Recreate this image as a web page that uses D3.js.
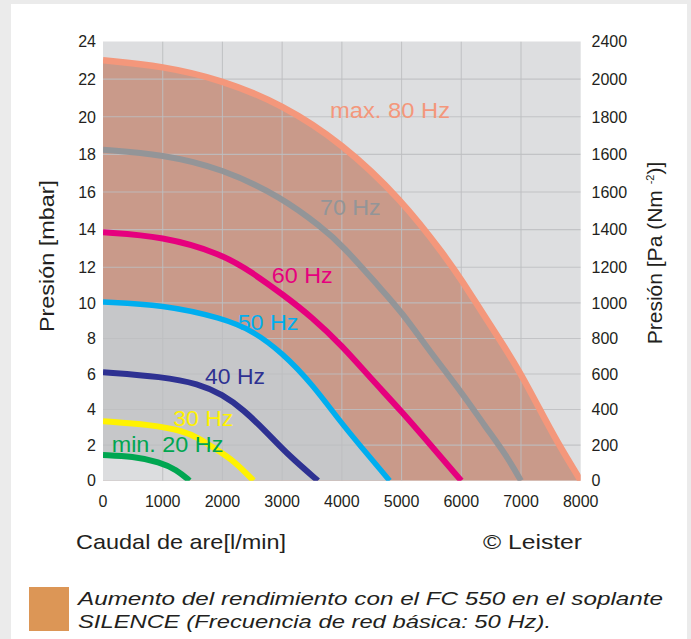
<!DOCTYPE html>
<html><head><meta charset="utf-8">
<script src="https://cdn.jsdelivr.net/npm/d3@7"></script>
<style>
body{margin:0;background:#ebebeb;}
svg{display:block;font-family:"Liberation Sans",Arial,Helvetica,sans-serif;}
</style>
</head><body>
<svg id="chart" width="691" height="639"></svg>
<script>
// ---- data ----
const flowTicks = [0,1000,2000,3000,4000,5000,6000,7000,8000];
const mbarTicks = [0,2,4,6,8,10,12,14,16,18,20,22,24];
const paLabels  = ["0","200","400","600","800","1000","1200","1400","1600","1600","1800","2000","2400"];

const hz80Flow = [0,1000,2000,3000,4000,5000,5750,6000,6400,6700,7000,7300,7600,8000];
const hz80Pres = [23.0,22.7,21.95,20.65,18.6,15.6,12.5,11.3,9.2,7.65,6.0,4.1,2.2,0];
const hz70Flow = [0,1000,2000,3000,3650,4000,4650,5000,5500,6000,6400,6750,7000];
const hz70Pres = [18.25,18.0,17.25,15.7,14.15,13.2,10.8,9.5,7.15,5.0,3.05,1.45,0];
const hz60Flow = [0,1000,2000,2500,3000,3500,4000,4500,5000,5500,6000];
const hz60Pres = [13.86,13.65,12.7,11.7,10.5,9.2,7.6,5.7,3.9,1.95,0];
const hz50Flow = [0,1000,2000,2500,3000,3500,4000,4300,4800];
const hz50Pres = [10.05,9.9,9.15,8.45,7.2,5.45,3.2,2.0,0];
const hz40Flow = [0,1000,1600,2000,2350,2750,3100,3600];
const hz40Pres = [6.1,5.85,5.45,4.85,4.0,2.7,1.45,0];
const hz30Flow = [0,800,1350,1600,1900,2200,2520];
const hz30Pres = [3.35,3.15,2.8,2.4,1.75,1.1,0];
const hz20Flow = [0,500,950,1230,1450];
const hz20Pres = [1.45,1.37,1.05,0.62,0];

const seriesNames = ["max. 80 Hz","70 Hz","60 Hz","50 Hz","40 Hz","30 Hz","min. 20 Hz"];
const seriesColors = ["#f4977b","#939598","#e6007e","#00aeef","#2e3192","#fff200","#00a651"];

// ---- build ----
const flows = [hz80Flow,hz70Flow,hz60Flow,hz50Flow,hz40Flow,hz30Flow,hz20Flow];
const press = [hz80Pres,hz70Pres,hz60Pres,hz50Pres,hz40Pres,hz30Pres,hz20Pres];
const series = seriesNames.map((n,i)=>({name:n,color:seriesColors[i],
  pts:flows[i].map((f,j)=>({f:f,p:press[i][j]}))}));

const svg = d3.select("#chart");
const L=103, R=580.7, T=41.5, B=480.7;
const x = d3.scaleLinear().domain([0,8000]).range([L,R]);
const y = d3.scaleLinear().domain([0,12,24]).range([B,267.3,T]);

// card
svg.append("rect").attr("x",11).attr("y",4).attr("width",676).attr("height",640).attr("fill","#fff");

svg.append("defs").append("clipPath").attr("id","plotclip")
  .append("rect").attr("x",L).attr("y",T).attr("width",R-L).attr("height",B-T);

// plot background
svg.append("rect").attr("x",L).attr("y",T).attr("width",R-L).attr("height",B-T).attr("fill","#dddee0");

const crv = d3.curveBasis;
const area = d3.area().x(d=>x(d.f)).y0(y(0)).y1(d=>y(d.p)).curve(crv);
const line = d3.line().x(d=>x(d.f)).y(d=>y(d.p)).curve(crv);

const g = svg.append("g").attr("clip-path","url(#plotclip)");
g.append("path").attr("d",area(series[0].pts)).attr("fill","#c99a8a");
g.append("path").attr("d",area(series[3].pts)).attr("fill","#c6c7c9");
g.append("path").attr("d",area(series[6].pts)).attr("fill","#dcdddf");

// grid
g.selectAll(".vg").data(flowTicks.slice(1,-1)).join("line")
  .attr("x1",d=>x(d)).attr("x2",d=>x(d)).attr("y1",T).attr("y2",B)
  .attr("stroke","#bdbec1").attr("stroke-opacity",0.85).attr("stroke-width",1.1);
g.selectAll(".hg").data(mbarTicks.slice(1,-1)).join("line")
  .attr("y1",d=>y(d)).attr("y2",d=>y(d)).attr("x1",L).attr("x2",R)
  .attr("stroke","#bdbec1").attr("stroke-opacity",0.85).attr("stroke-width",1.1);

// curves
const widths=[6.5,6,6,5.5,6,6,6];
series.forEach((s,i)=>{
  g.append("path").attr("d",line(s.pts)).attr("fill","none")
   .attr("stroke",s.color).attr("stroke-width",widths[i]);
});

// curve labels
const labelPos = [[330,118,120],[320,214.7,60.7],[271.7,283,61],[237.7,329.7,60.7],[205,384,60],[173.3,425.7,60],[111.7,452,111.7]];
series.forEach((s,i)=>{
  const p=labelPos[i];
  svg.append("text").attr("x",p[0]).attr("y",p[1]).attr("fill",s.color)
    .attr("font-size",22).attr("textLength",p[2]).attr("lengthAdjust","spacingAndGlyphs").text(s.name);
});

// axes labels
const tc="#231f20";
svg.append("g").selectAll("text").data(mbarTicks).join("text")
  .attr("x",96).attr("y",d=>y(d)).attr("dy","0.36em").attr("text-anchor","end")
  .attr("font-size",16).attr("fill",tc).text(d=>d);
svg.append("g").selectAll("text").data(mbarTicks).join("text")
  .attr("x",591.5).attr("y",d=>y(d)).attr("dy","0.36em").attr("text-anchor","start")
  .attr("font-size",16).attr("fill",tc).text((d,i)=>paLabels[i]);
svg.append("g").selectAll("text").data(flowTicks).join("text")
  .attr("x",d=>x(d)).attr("y",506.5).attr("text-anchor","middle")
  .attr("font-size",16).attr("fill",tc).text(d=>d);

// titles
svg.append("text").attr("transform","translate(54,256) rotate(-90)").attr("text-anchor","middle")
  .attr("font-size",21).attr("fill",tc).attr("textLength",152).attr("lengthAdjust","spacingAndGlyphs")
  .text("Presión [mbar]");
const rt = svg.append("text").attr("transform","translate(662,253) rotate(-90)").attr("text-anchor","middle")
  .attr("font-size",21).attr("fill",tc);
rt.append("tspan").text("Presión [Pa (Nm ");
rt.append("tspan").attr("font-size",11).attr("dy",-8).text("-2");
rt.append("tspan").attr("dy",8).text(")]");

svg.append("text").attr("x",76).attr("y",548.5).attr("font-size",21).attr("fill",tc)
  .attr("textLength",210).attr("lengthAdjust","spacingAndGlyphs").text("Caudal de are[l/min]");
svg.append("text").attr("x",483).attr("y",548.5).attr("font-size",21).attr("fill",tc)
  .attr("textLength",99).attr("lengthAdjust","spacingAndGlyphs").text("© Leister");

// legend
svg.append("rect").attr("x",29).attr("y",587).attr("width",40).attr("height",44).attr("fill","#dc9656");
svg.append("text").attr("x",78).attr("y",605).attr("font-size",19).attr("font-style","italic").attr("fill",tc)
  .attr("textLength",585).attr("lengthAdjust","spacingAndGlyphs")
  .text("Aumento del rendimiento con el FC 550 en el soplante");
svg.append("text").attr("x",78).attr("y",628.3).attr("font-size",19).attr("font-style","italic").attr("fill",tc)
  .attr("textLength",473).attr("lengthAdjust","spacingAndGlyphs")
  .text("SILENCE (Frecuencia de red básica: 50 Hz).");
</script>
</body></html>
